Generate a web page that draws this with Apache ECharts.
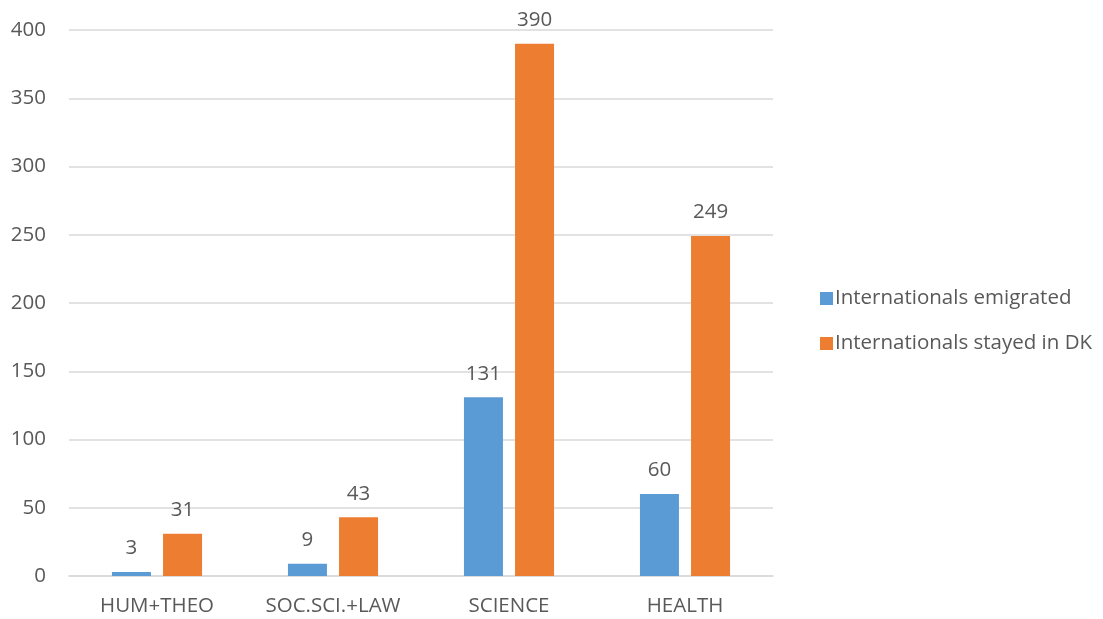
<!DOCTYPE html>
<html>
<head>
<meta charset="utf-8">
<script src="https://cdn.jsdelivr.net/npm/echarts@6/dist/echarts.min.js"></script>
<style>
  html, body { margin: 0; padding: 0; background: #fff; }
  #chart { width: 1103px; height: 619px; }
</style>
</head>
<body>
<div id="chart"></div>
<script>
const categories = ['HUM+THEO', 'SOC.SCI.+LAW', 'SCIENCE', 'HEALTH']
const emigrated = [3, 9, 131, 60]
const stayed = [31, 43, 390, 249]
const yTicks = { min: 0, max: 400, interval: 50 }

const chart = echarts.init(document.getElementById('chart'))
const textColor = '#595959'
const font = '"Open Sans", "Noto Sans", sans-serif'
const fs = 20.5

const barLabel = {
  show: true,
  position: 'top',
  distance: 13,
  color: textColor,
  fontSize: fs,
  fontFamily: font
}

chart.setOption({
  animation: false,
  grid: { left: 69, right: 330, top: 30, bottom: 43, containLabel: false },
  legend: {
    orient: 'vertical',
    left: 815,
    top: 283,
    itemWidth: 13,
    itemHeight: 13,
    itemGap: 24,
    icon: 'rect',
    textStyle: { color: textColor, fontSize: fs, fontFamily: font, padding: [0, 0, 0, -3] }
  },
  xAxis: {
    type: 'category',
    data: categories,
    axisLine: { lineStyle: { color: '#D9D9D9', width: 1.5 } },
    axisTick: { show: false },
    axisLabel: { interval: 0, color: textColor, fontSize: fs, fontFamily: font, margin: 20 }
  },
  yAxis: {
    type: 'value',
    min: yTicks.min,
    max: yTicks.max,
    interval: yTicks.interval,
    axisLine: { show: false },
    axisTick: { show: false },
    axisLabel: { color: textColor, fontSize: fs, fontFamily: font, margin: 23 },
    splitLine: { lineStyle: { color: '#D9D9D9', width: 1.5 } }
  },
  series: [
    {
      name: 'Internationals emigrated',
      type: 'bar',
      data: emigrated,
      barWidth: 39,
      barGap: '31%',
      itemStyle: { color: '#5B9BD5' },
      label: barLabel
    },
    {
      name: 'Internationals stayed in DK',
      type: 'bar',
      data: stayed,
      barWidth: 39,
      itemStyle: { color: '#ED7D31' },
      label: barLabel
    }
  ]
})
</script>
</body>
</html>
